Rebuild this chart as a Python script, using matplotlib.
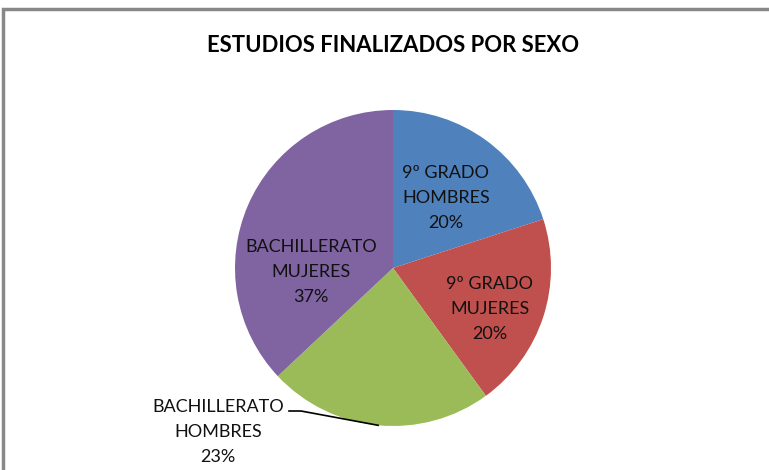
import matplotlib.pyplot as plt
import numpy as np

# --- datos ---
categorias = ["9º GRADO\nHOMBRES", "9º GRADO\nMUJERES",
              "BACHILLERATO\nHOMBRES", "BACHILLERATO\nMUJERES"]
porcentajes = [20, 20, 23, 37]
colores = ["#4F81BD", "#C0504D", "#9BBB59", "#8064A2"]

# posiciones de etiqueta (radio relativo, angulo en grados) - ajustadas a mano
pos_etiquetas = [(0.556, 53), (0.666, -23), None, (0.52, 183)]

plt.rcParams["font.family"] = ["Lato", "DejaVu Sans"]

W, H = 769, 470
fig = plt.figure(figsize=(W / 100, H / 100), dpi=100)

# marco gris del area del grafico
fig.patches.append(plt.Rectangle((3 / W, -0.1), 1.2, 1 - 9 / H + 0.1,
                                 transform=fig.transFigure, fill=False,
                                 edgecolor="#888888", linewidth=2.5))

fig.text(393 / W, 1 - 45 / H, "ESTUDIOS FINALIZADOS POR SEXO",
         ha="center", va="center", fontsize=15.9, fontweight="bold",
         color="black")

cx, cy, r = 393, 268, 158
ax = fig.add_axes([(cx - r) / W, (H - cy - r) / H, 2 * r / W, 2 * r / H])
ax.axis("off")

wedges, _ = ax.pie(porcentajes, colors=colores, startangle=90,
                   counterclock=False, radius=1,
                   wedgeprops=dict(linewidth=0))
ax.set_xlim(-1, 1)
ax.set_ylim(-1, 1)

estilo = dict(ha="center", va="center", fontsize=13, color="#111111",
              linespacing=1.68)
total = sum(porcentajes)
for i, (w, cat, p) in enumerate(zip(wedges, categorias, porcentajes)):
    texto = f"{cat}\n{p / total * 100:.0f}%"
    if pos_etiquetas[i] is not None:
        rr, ang = pos_etiquetas[i]
        x, y = rr * np.cos(np.radians(ang)), rr * np.sin(np.radians(ang))
        ax.text(x, y, texto, **estilo)
    else:
        # etiqueta externa con linea guia
        mid = np.radians((w.theta1 + w.theta2) / 2)
        xe, ye = np.cos(mid), np.sin(mid)
        tx, ty = (218 - cx) / r, (cy - 432) / r
        ax.text(tx, ty, texto, clip_on=False, **estilo)
        hx, hy = (289 - cx) / r, (cy - 411) / r
        ax.plot([hx, hx + 12 / r, xe], [hy, hy, ye], color="black",
                linewidth=1.2, clip_on=False)

fig.savefig("out.png", dpi=100)
